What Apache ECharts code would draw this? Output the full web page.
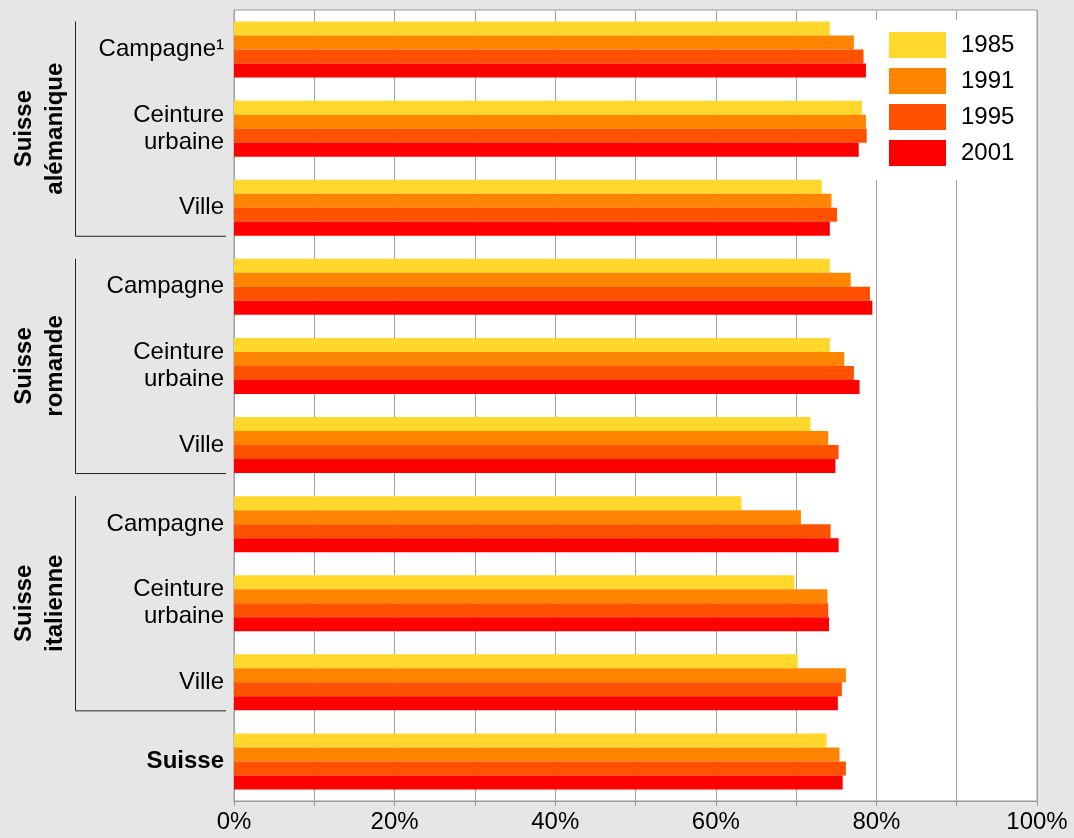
<!DOCTYPE html>
<html>
<head>
<meta charset="utf-8">
<script src="https://cdn.jsdelivr.net/npm/echarts@6/dist/echarts.min.js"></script>
<style>
html,body{margin:0;padding:0;background:#e6e6e6;}
#c{width:1074px;height:838px;}
</style>
</head>
<body>
<div id="c"></div>
<script>
var categories = ['Campagne¹','Ceinture\nurbaine','Ville','Campagne','Ceinture\nurbaine','Ville','Campagne','Ceinture\nurbaine','Ville','Suisse'];
var years = ['1985','1991','1995','2001'];
var v1985 = [74.2, 78.2, 73.2, 74.2, 74.2, 71.8, 63.2, 69.8, 70.2, 73.8];
var v1991 = [77.2, 78.7, 74.4, 76.8, 76.0, 74.0, 70.6, 73.9, 76.2, 75.4];
var v1995 = [78.4, 78.8, 75.1, 79.2, 77.2, 75.3, 74.3, 74.0, 75.7, 76.2];
var v2001 = [78.7, 77.8, 74.2, 79.5, 77.9, 74.9, 75.3, 74.1, 75.2, 75.8];
var xTicks = [0, 20, 40, 60, 80, 100];
var groupLabels = ['Suisse\nalémanique', 'Suisse\nromande', 'Suisse\nitalienne'];
var groupStart = [0, 3, 6];
var groupEnd = [2, 5, 8];

var colors = ['#ffd82b', '#ff8400', '#ff5100', '#ff0000'];
var values = [v1985, v1991, v1995, v2001];
var FONT = 'Liberation Sans, Arial, sans-serif';

var chart = echarts.init(document.getElementById('c'), null, {renderer: 'canvas'});
var series = years.map(function (y, i) {
  return {
    name: y, type: 'bar', data: values[i], barWidth: 14, barGap: '0%',
    itemStyle: {color: colors[i]}, animation: false
  };
});
chart.setOption({
  backgroundColor: '#e6e6e6',
  animation: false,
  textStyle: {fontFamily: FONT},
  grid: {left: 234, right: 37, top: 10, bottom: 37, show: true, backgroundColor: '#fff', borderColor: '#999', borderWidth: 1},
  legend: {
    orient: 'vertical', left: 870, top: 20, data: years,
    backgroundColor: '#fff', padding: [12, 16, 14, 19],
    itemWidth: 57, itemHeight: 26, itemGap: 10, icon: 'rect',
    textStyle: {fontSize: 24, color: '#000', fontFamily: FONT, padding: [0, 0, 0, 10]}
  },
  xAxis: {
    type: 'value', min: 0, max: 100, interval: 10,
    axisLine: {show: true, lineStyle: {color: '#999', width: 1}},
    axisTick: {show: true, length: 5, lineStyle: {color: '#999'}},
    splitLine: {show: true, lineStyle: {color: '#a3a3a3', width: 1}},
    axisLabel: {
      fontSize: 24, color: '#000', margin: 9, fontFamily: FONT,
      formatter: function (v) { return xTicks.indexOf(v) >= 0 ? v + '%' : ''; }
    }
  },
  yAxis: {
    type: 'category', data: categories, inverse: true,
    axisLine: {show: false}, axisTick: {show: false}, splitLine: {show: false},
    axisLabel: {
      fontSize: 24, color: '#000', margin: 10, lineHeight: 27, fontFamily: FONT,
      formatter: function (v) { return v === 'Suisse' ? '{b|Suisse}' : v; },
      rich: {b: {fontWeight: 'bold', fontSize: 24, fontFamily: FONT, color: '#000'}}
    }
  },
  series: series
});

var graphics = [];
for (var g = 0; g < groupLabels.length; g++) {
  var yTop = chart.convertToPixel({yAxisIndex: 0}, groupStart[g]) - 28;
  var yBot = chart.convertToPixel({yAxisIndex: 0}, groupEnd[g]) + 28;
  graphics.push({type: 'polyline', silent: true,
    shape: {points: [[75.5, yTop], [75.5, yBot + 0.5], [226, yBot + 0.5]]},
    style: {stroke: '#222', lineWidth: 1, fill: null}});
  graphics.push({type: 'text', silent: true, x: 39.5, y: (yTop + yBot) / 2, rotation: Math.PI / 2,
    style: {text: groupLabels[g], fontSize: 24, fontWeight: 'bold', fontFamily: FONT,
      lineHeight: 31, align: 'center', verticalAlign: 'middle', fill: '#000'}});
}
chart.setOption({graphic: graphics});
</script>
</body>
</html>
